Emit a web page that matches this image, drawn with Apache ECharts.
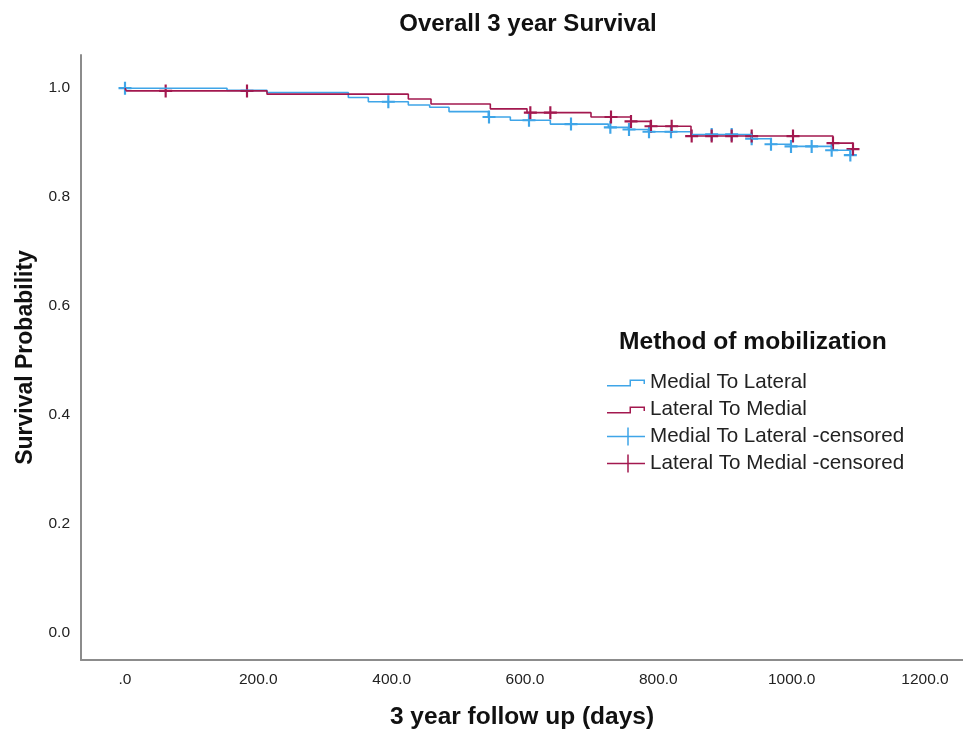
<!DOCTYPE html>
<html lang="en">
<head>
  <meta charset="UTF-8">
  <title>Overall 3 year Survival</title>
  <script src="https://cdn.jsdelivr.net/npm/echarts@6/dist/echarts.min.js"></script>
  <style>
    html, body { margin: 0; padding: 0; background: #fff; }
    #app { width: 963px; height: 735px; }
  </style>
</head>
<body>
  <div id="app"></div>
  <script>
    // Kaplan-Meier steps: [day, survival]
    var medialToLateral = [
      [0, 1.000], [153, 0.996], [213, 0.992], [335, 0.983], [365, 0.975],
      [425, 0.969], [457, 0.965], [486, 0.957], [545, 0.947], [578, 0.941],
      [638, 0.934], [725, 0.928], [755, 0.924], [785, 0.920], [849, 0.915],
      [940, 0.907], [969, 0.897], [999, 0.893], [1060, 0.886], [1088, 0.877]
    ]
    var lateralToMedial = [
      [0, 1.000], [2, 0.995], [213, 0.989], [425, 0.980], [459, 0.971],
      [548, 0.962], [603, 0.955], [699, 0.947], [759, 0.939], [788, 0.930],
      [849, 0.912], [1062, 0.899], [1092, 0.888]
    ]
    // censored cases
    var medialToLateralCensored = [
      [0, 1.000], [395, 0.975], [546, 0.947], [606, 0.941], [669, 0.934],
      [728, 0.928], [756, 0.924], [786, 0.920], [819, 0.920], [880, 0.915],
      [910, 0.915], [940, 0.907], [969, 0.897], [999, 0.893], [1030, 0.893],
      [1060, 0.886], [1088, 0.877]
    ]
    var lateralToMedialCensored = [
      [61, 0.995], [183, 0.995], [608, 0.955], [638, 0.955], [729, 0.947],
      [759, 0.939], [789, 0.930], [820, 0.930], [850, 0.912], [880, 0.912],
      [910, 0.912], [940, 0.912], [1002, 0.912], [1062, 0.899], [1092, 0.888]
    ]
    var xTicks = [0, 200, 400, 600, 800, 1000, 1200]
    var yTicks = [0, 0.2, 0.4, 0.6, 0.8, 1.0]

    var blue = '#3fa5e8'
    var red = '#a3184f'
    var font = 'Liberation Sans, Arial, sans-serif'

    var plusSymbol = 'path://M5,0h2v5h5v2h-5v5h-2v-5h-5v-2h5z'
    var stepIcon = 'path://M0,11.5H22.5V6H38V10.5H36.5V7.5H24V13H0Z' +
      'M0,0h0.01v0.01h-0.01z M37.99,17.99h0.01v0.01h-0.01z'
    var crossIcon = 'path://M0,8.25H20.25V0H21.75V8.25H38V9.75H21.75V18H20.25V9.75H0Z'

    var mCharts = echarts.init(document.querySelector('#app'))
    var option = {
      animation: false,
      backgroundColor: '#fff',
      title: [
        {
          text: 'Overall 3 year Survival',
          left: 528, top: 12, padding: 0, textAlign: 'center',
          textStyle: { fontFamily: font, fontSize: 24, fontWeight: 'bold', color: '#111' }
        },
        {
          text: 'Method of mobilization',
          left: 619, top: 330, padding: 0,
          textStyle: { fontFamily: font, fontSize: 24.6, fontWeight: 'bold', color: '#111' }
        }
      ],
      legend: {
        orient: 'vertical',
        left: 607, top: 372, padding: 0,
        itemWidth: 38, itemHeight: 18, itemGap: 6,
        selectedMode: false,
        textStyle: { fontFamily: font, fontSize: 20.6, color: '#222', lineHeight: 20 },
        data: [
          { name: 'Medial To Lateral', icon: stepIcon },
          { name: 'Lateral To Medial', icon: stepIcon },
          { name: 'Medial To Lateral -censored', icon: crossIcon },
          { name: 'Lateral To Medial -censored', icon: crossIcon }
        ]
      },
      grid: { left: 81, top: 55, right: 0, bottom: 74 },
      xAxis: {
        type: 'value',
        min: -66, max: 1257,
        name: '3 year follow up (days)',
        nameLocation: 'middle',
        nameGap: 45,
        nameTextStyle: { fontFamily: font, fontSize: 24.5, fontWeight: 'bold', color: '#111' },
        axisLine: { show: true, onZero: false, lineStyle: { color: '#8c8c8c', width: 2 } },
        axisTick: { show: false },
        splitLine: { show: false },
        axisLabel: {
          customValues: xTicks,
          margin: 12,
          fontFamily: font, fontSize: 15.5, color: '#222',
          formatter: function (v) { return v === 0 ? '.0' : v.toFixed(1) }
        }
      },
      yAxis: {
        type: 'value',
        min: -0.051, max: 1.061,
        name: 'Survival Probability',
        nameLocation: 'middle',
        nameGap: 42,
        nameTextStyle: { fontFamily: font, fontSize: 23, fontWeight: 'bold', color: '#111' },
        axisLine: { show: true, onZero: false, lineStyle: { color: '#8c8c8c', width: 2 } },
        axisTick: { show: false },
        splitLine: { show: false },
        axisLabel: {
          customValues: yTicks,
          margin: 11,
          fontFamily: font, fontSize: 15.5, color: '#222',
          formatter: function (v) { return v.toFixed(1) }
        }
      },
      series: [
        {
          name: 'Medial To Lateral',
          type: 'line', step: 'end', symbol: 'none',
          lineStyle: { color: blue, width: 1.6 },
          itemStyle: { color: blue },
          data: medialToLateral
        },
        {
          name: 'Lateral To Medial',
          type: 'line', step: 'end', symbol: 'none',
          lineStyle: { color: red, width: 1.6 },
          itemStyle: { color: red },
          data: lateralToMedial
        },
        {
          name: 'Medial To Lateral -censored',
          type: 'scatter', symbol: plusSymbol, symbolSize: 13,
          itemStyle: { color: blue, opacity: 1 },
          data: medialToLateralCensored
        },
        {
          name: 'Lateral To Medial -censored',
          type: 'scatter', symbol: plusSymbol, symbolSize: 13,
          itemStyle: { color: red, opacity: 1 },
          data: lateralToMedialCensored
        }
      ]
    }
    mCharts.setOption(option)
  </script>
</body>
</html>
